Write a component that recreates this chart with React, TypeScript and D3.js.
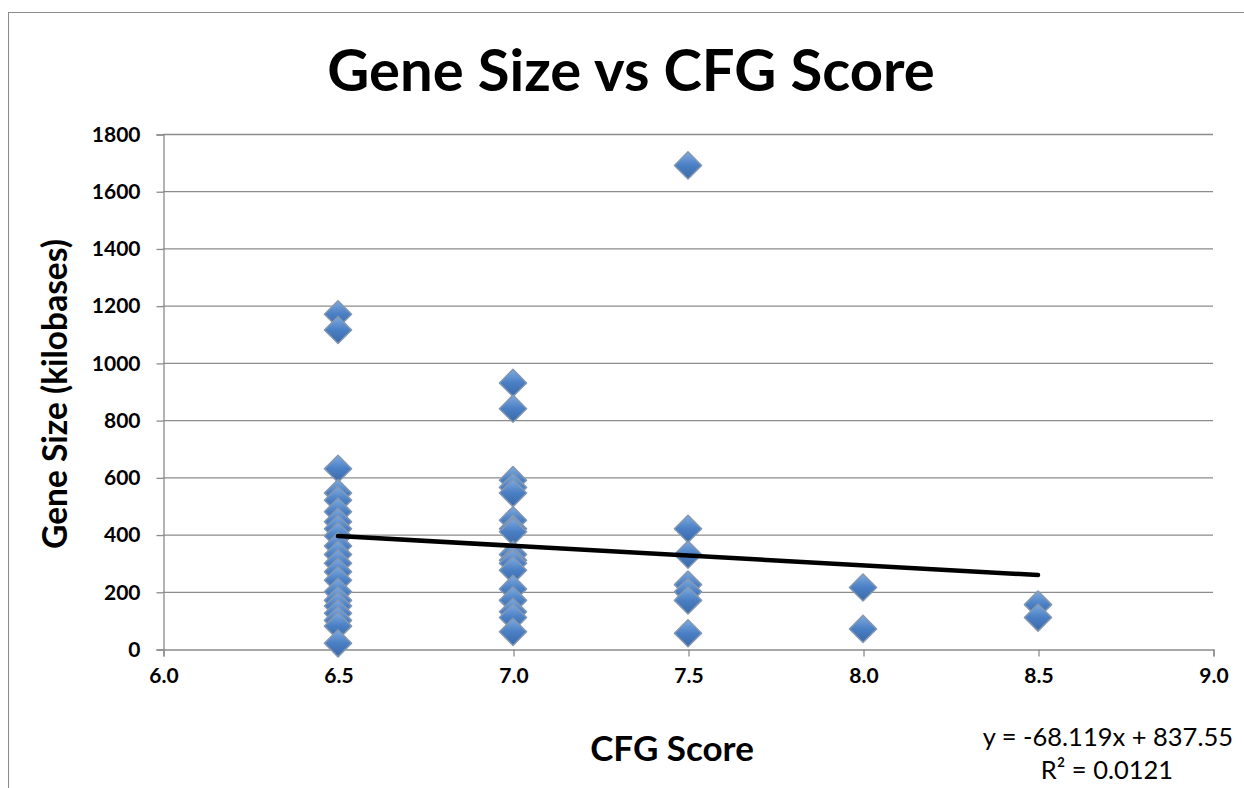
import { useEffect, useRef } from "react";
import * as d3 from "d3";

// CFG score columns and gene sizes (kilobases)
const score65 = [1170, 1115, 630, 545, 520, 480, 445, 420, 395, 360, 330, 300, 270, 240, 200, 170, 150, 125, 100, 80, 20];
const score70 = [930, 840, 590, 565, 545, 450, 420, 410, 330, 310, 300, 275, 210, 170, 130, 110, 60];
const score75 = [1690, 420, 330, 225, 200, 170, 55];
const score80 = [215, 70];
const score85 = [155, 110];

const xTicks = [6.0, 6.5, 7.0, 7.5, 8.0, 8.5, 9.0];
const yTicks = [0, 200, 400, 600, 800, 1000, 1200, 1400, 1600, 1800];

// linear trend line shown on the chart
const slope = -68.119;
const intercept = 837.55;

const App = () => {
  const ref = useRef<SVGSVGElement | null>(null);

  useEffect(() => {
    if (!ref.current) return;
    const svg = d3.select(ref.current);
    svg.selectAll("*").remove();

    const width = 1244;
    const height = 788;
    const margin = { top: 134, right: 31, bottom: 139, left: 163 };
    const font = "Lato, 'Open Sans', sans-serif";

    const points = [
      ...score65.map((v) => ({ x: 6.5, y: v })),
      ...score70.map((v) => ({ x: 7.0, y: v })),
      ...score75.map((v) => ({ x: 7.5, y: v })),
      ...score80.map((v) => ({ x: 8.0, y: v })),
      ...score85.map((v) => ({ x: 8.5, y: v })),
    ];

    const x = d3.scaleLinear().domain([6, 9]).range([margin.left, width - margin.right]);
    const y = d3.scaleLinear().domain([0, 1800]).range([height - margin.bottom, margin.top]);

    // Outer chart frame
    svg
      .append("rect")
      .attr("x", 8.5)
      .attr("y", 12.5)
      .attr("width", 1400)
      .attr("height", 1000)
      .attr("fill", "#fff")
      .attr("stroke", "#8c8c8c");

    // Gradient for markers
    const defs = svg.append("defs");
    const grad = defs
      .append("linearGradient")
      .attr("id", "dia")
      .attr("x1", 0)
      .attr("y1", 0)
      .attr("x2", 0)
      .attr("y2", 1);
    grad.append("stop").attr("offset", "0%").attr("stop-color", "#7eaae0");
    grad.append("stop").attr("offset", "50%").attr("stop-color", "#4a7fc4");
    grad.append("stop").attr("offset", "100%").attr("stop-color", "#3a69a8");

    // Grid lines
    svg
      .append("g")
      .selectAll("line")
      .data(yTicks.filter((t) => t > 0))
      .join("line")
      .attr("x1", x(6))
      .attr("x2", x(9))
      .attr("y1", (d) => y(d) + 0.5)
      .attr("y2", (d) => y(d) + 0.5)
      .attr("stroke", "#8c8c8c")
      .attr("stroke-width", 1.3);

    // Y axis
    svg
      .append("g")
      .attr("transform", `translate(${x(6) + 0.5},0.5)`)
      .call(d3.axisLeft(y).tickValues(yTicks).tickSize(7).tickPadding(16).tickFormat(d3.format("d")))
      .call((g) => g.selectAll("line, path").attr("stroke", "#8c8c8c").attr("stroke-width", 1.3))
      .selectAll("text")
      .attr("fill", "#000")
      .style("font-family", font)
      .style("font-weight", "bold")
      .style("font-size", "21px");

    // X axis
    svg
      .append("g")
      .attr("transform", `translate(0.5,${y(0) + 0.5})`)
      .call(d3.axisBottom(x).tickValues(xTicks).tickSize(7).tickSizeOuter(7).tickPadding(12).tickFormat(d3.format(".1f")))
      .call((g) => g.selectAll("line, path").attr("stroke", "#8c8c8c").attr("stroke-width", 1.3))
      .selectAll("text")
      .attr("fill", "#000")
      .style("font-family", font)
      .style("font-weight", "bold")
      .style("font-size", "21px");

    // Markers
    const sym = d3.symbol().type(d3.symbolDiamond2).size(470);
    svg
      .append("g")
      .selectAll("path")
      .data(points)
      .join("path")
      .attr("d", sym)
      .attr("transform", (d) => `translate(${x(d.x)},${y(d.y)})`)
      .attr("fill", "url(#dia)")
      .attr("stroke", "#8497b0")
      .attr("stroke-width", 1.5)
      .attr("stroke-linejoin", "round");

    // Trend line
    const xs = d3.extent(points, (d) => d.x) as [number, number];
    svg
      .append("line")
      .attr("x1", x(xs[0]))
      .attr("y1", y(slope * xs[0] + intercept))
      .attr("x2", x(xs[1]))
      .attr("y2", y(slope * xs[1] + intercept))
      .attr("stroke", "#000")
      .attr("stroke-width", 4.5)
      .attr("stroke-linecap", "round");

    // Title
    svg
      .append("text")
      .attr("x", 631)
      .attr("y", 91)
      .attr("text-anchor", "middle")
      .style("font-family", font)
      .style("font-weight", "bold")
      .style("font-size", "58px")
      .text("Gene Size vs CFG Score");

    // Axis titles
    svg
      .append("text")
      .attr("x", 672)
      .attr("y", 761)
      .attr("text-anchor", "middle")
      .style("font-family", font)
      .style("font-weight", "bold")
      .style("font-size", "35px")
      .text("CFG Score");

    svg
      .append("text")
      .attr("transform", `translate(67,394) rotate(-90)`)
      .attr("text-anchor", "middle")
      .style("font-family", font)
      .style("font-weight", "bold")
      .style("font-size", "33.5px")
      .text("Gene Size (kilobases)");

    // Trend equation
    svg
      .append("text")
      .attr("x", 1233)
      .attr("y", 746)
      .attr("text-anchor", "end")
      .style("font-family", font)
      .style("font-size", "25.5px")
      .text(`y = ${slope}x + ${intercept}`);

    svg
      .append("text")
      .attr("x", 1107)
      .attr("y", 779)
      .attr("text-anchor", "middle")
      .style("font-family", font)
      .style("font-size", "25.5px")
      .text("R² = 0.0121");
  }, []);

  return (
    <svg
      ref={ref}
      width={1244}
      height={788}
      style={{ position: "absolute", left: 0, top: 0, background: "#fff" }}
    ></svg>
  );
};

export default App;
